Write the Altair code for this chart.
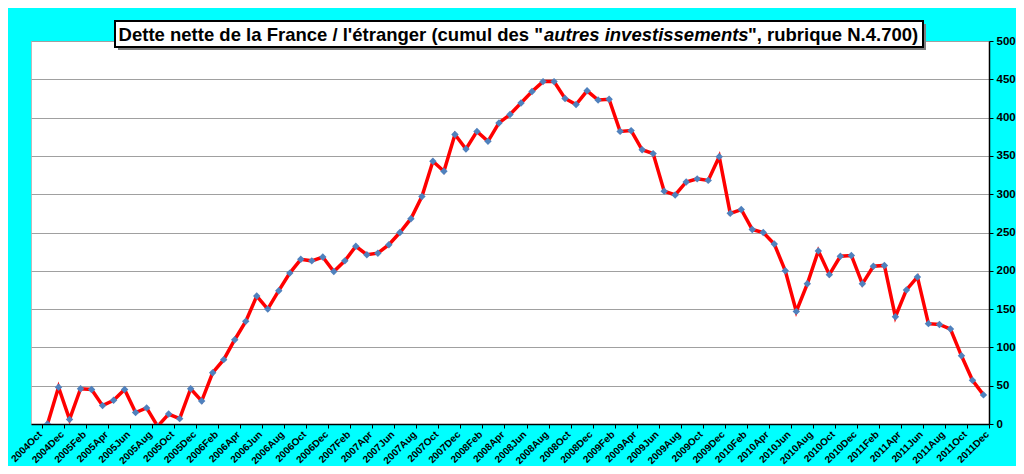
import altair as alt
import pandas as pd

years = [2004, 2005, 2006, 2007, 2008, 2009, 2010, 2011]
month_names = ["Jan", "Feb", "Mar", "Apr", "May", "Jun",
               "Jul", "Aug", "Sep", "Oct", "Nov", "Dec"]
categories = ["2004Oct", "2004Nov", "2004Dec"] + [
    f"{y}{m}" for y in years[1:] for m in month_names
]

values = [
    None, 0, 48,
    6, 46, 45, 24, 31, 45, 15, 21, -3, 13, 7, 46,
    30, 67, 84, 110, 134, 167, 150, 174, 197, 215, 213, 218,
    199, 213, 232, 221, 223, 234, 250, 268, 297, 343, 330, 378,
    359, 382, 369, 393, 404, 419, 434, 447, 447, 425, 417, 435,
    423, 424, 382, 383, 358, 353, 304, 299, 316, 320, 318, 349,
    275, 280, 254, 250, 235, 200, 147, 183, 226, 195, 219, 220,
    183, 206, 207, 140, 175, 192, 131, 130, 124, 89, 57, 38,
]

y_ticks = [0, 50, 100, 150, 200, 250, 300, 350, 400, 450, 500]
label_months = categories[::2]

title_part1 = "Dette nette de la France / l'étranger (cumul des \""
title_italic = "autres investissements"
title_part3 = "\", rubrique N.4.700)"

df = pd.DataFrame({"mois": categories, "dette": values})

FONT = "Liberation Sans"
TSIZE = 18.5

x_enc = alt.X(
    "mois:O",
    scale=alt.Scale(type="point", domain=categories, padding=0.5),
    axis=alt.Axis(
        title=None,
        values=label_months,
        labelAngle=-45,
        labelFont=FONT,
        labelFontWeight="bold",
        labelFontSize=10,
        labelColor="black",
        labelPadding=1,
        domainColor="black",
        domainWidth=1.5,
        tickColor="black",
        tickSize=4,
        tickOffset=5.5,
        labelOffset=-5.5,
        grid=False,
    ),
)
y_enc = alt.Y(
    "dette:Q",
    scale=alt.Scale(domain=[0, 500], nice=False),
    axis=alt.Axis(
        title=None,
        orient="right",
        values=y_ticks,
        labelFont=FONT,
        labelFontWeight="bold",
        labelFontSize=11.5,
        labelColor="black",
        labelPadding=3,
        domainColor="black",
        domainWidth=1.5,
        tickColor="black",
        tickSize=4,
        grid=True,
        gridColor="#A0A0A0",
        gridWidth=1,
    ),
)

base = alt.Chart(df)
line = base.mark_line(color="#FF0000", strokeWidth=3.5, clip=True).encode(x=x_enc, y=y_enc)
pts = base.mark_point(shape="diamond", filled=True, color="#4F81BD", size=55,
                      opacity=1, clip=True).encode(x=x_enc, y=y_enc)

one = alt.Data(values=[{"k": 1}])
shadow = alt.Chart(one).mark_rect(color="#7F7F7F").encode(
    x=alt.value(87), x2=alt.value(895), y=alt.value(-17), y2=alt.value(9)
)
box = alt.Chart(one).mark_rect(fill="white", stroke="black", strokeWidth=2).encode(
    x=alt.value(84), x2=alt.value(892), y=alt.value(-20), y2=alt.value(6)
)
t1 = alt.Chart(one).mark_text(
    text=title_part1, font=FONT, fontWeight="bold", fontSize=TSIZE,
    align="right", baseline="alphabetic", color="black"
).encode(x=alt.value(512), y=alt.value(0))
t2 = alt.Chart(one).mark_text(
    text=title_italic, font=FONT, fontWeight="bold", fontStyle="italic", fontSize=TSIZE,
    align="left", baseline="alphabetic", color="black"
).encode(x=alt.value(513), y=alt.value(0))
t3 = alt.Chart(one).mark_text(
    text=title_part3, font=FONT, fontWeight="bold", fontSize=TSIZE,
    align="left", baseline="alphabetic", color="black"
).encode(x=alt.value(717), y=alt.value(0))

chart = alt.layer(line, pts, shadow, box, t1, t2, t3).properties(
    width=958,
    height=383,
    background="#00FFFF",
    padding={"left": 23, "top": 33, "right": 27, "bottom": 42},
    autosize=alt.AutoSizeParams(type="none"),
).configure_view(
    fill="white", stroke="#BBBBBB", strokeWidth=1
)

chart.save("out.html", embed_options={"renderer": "svg", "actions": False})
